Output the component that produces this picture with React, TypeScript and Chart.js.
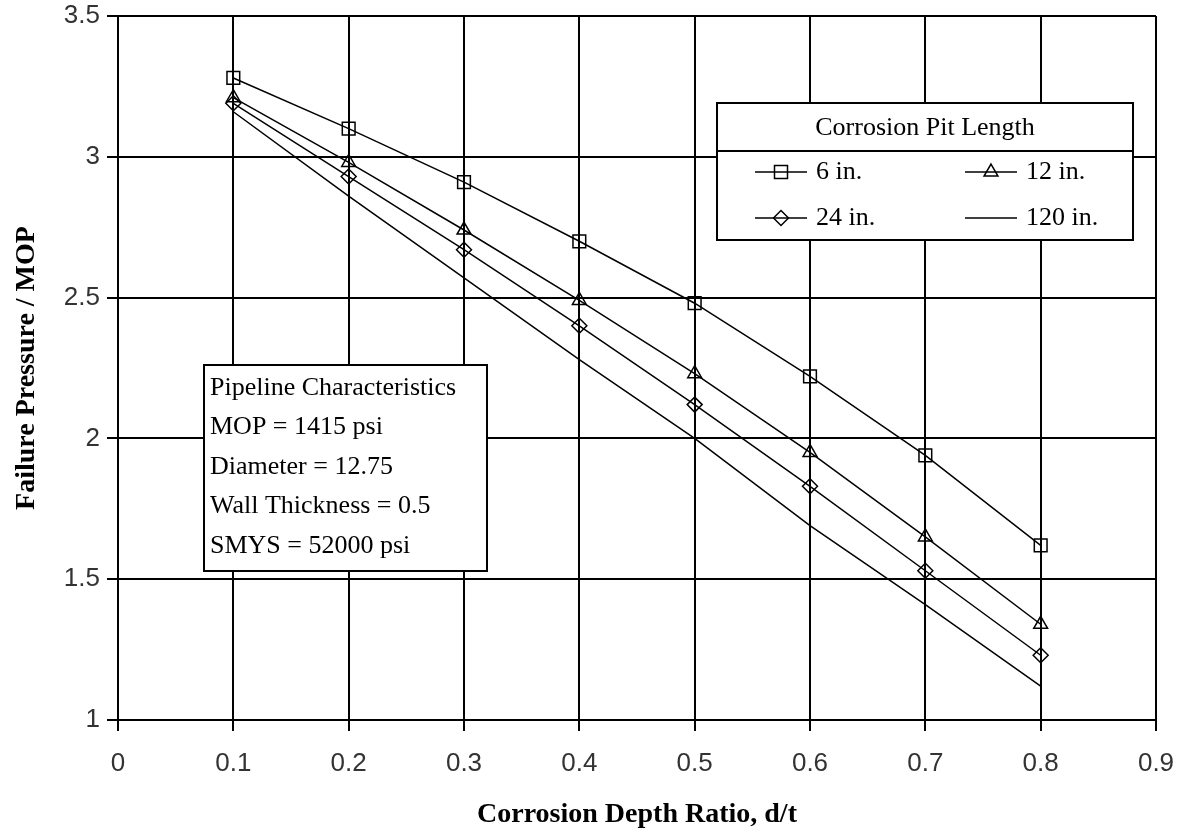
import React, { useEffect, useRef } from 'react';
import { Chart, registerables } from 'chart.js';

Chart.register(...registerables);

// ---- data ----
const depthRatios = [0.1, 0.2, 0.3, 0.4, 0.5, 0.6, 0.7, 0.8];
const seriesLabels = ['6 in.', '12 in.', '24 in.', '120 in.'];
const pit6 = [3.28, 3.10, 2.91, 2.70, 2.48, 2.22, 1.94, 1.62];
const pit12 = [3.21, 2.98, 2.74, 2.49, 2.23, 1.95, 1.65, 1.34];
const pit24 = [3.19, 2.93, 2.67, 2.40, 2.12, 1.83, 1.53, 1.23];
const pit120 = [3.16, 2.86, 2.57, 2.28, 2.00, 1.69, 1.41, 1.12];
const xTickValues = [0, 0.1, 0.2, 0.3, 0.4, 0.5, 0.6, 0.7, 0.8, 0.9];
const yTickValues = [1, 1.5, 2, 2.5, 3, 3.5];
const xTitle = 'Corrosion Depth Ratio, d/t';
const yTitle = 'Failure Pressure / MOP';
const legendTitle = 'Corrosion Pit Length';
const pipelineLines = [
  'Pipeline Characteristics',
  'MOP = 1415 psi',
  'Diameter = 12.75',
  'Wall Thickness = 0.5',
  'SMYS = 52000 psi',
];

const SERIF = '"Liberation Serif", "Times New Roman", serif';
const SANS = '"Liberation Sans", Arial, sans-serif';

function drawMarker(ctx: CanvasRenderingContext2D, style: string, x: number, y: number) {
  ctx.beginPath();
  if (style === 'rect') {
    const s = 6.5;
    ctx.rect(x - s, y - s, 2 * s, 2 * s);
  } else if (style === 'triangle') {
    const r = 8;
    ctx.moveTo(x, y - r);
    ctx.lineTo(x + r * Math.sin((2 * Math.PI) / 3), y - r * Math.cos((2 * Math.PI) / 3));
    ctx.lineTo(x + r * Math.sin((4 * Math.PI) / 3), y - r * Math.cos((4 * Math.PI) / 3));
    ctx.closePath();
  } else if (style === 'rectRot') {
    const r = 7.5;
    ctx.moveTo(x, y - r);
    ctx.lineTo(x + r, y);
    ctx.lineTo(x, y + r);
    ctx.lineTo(x - r, y);
    ctx.closePath();
  } else {
    return;
  }
  ctx.stroke();
}

const boxesPlugin = {
  id: 'boxes',
  afterDatasetsDraw(chart: any) {
    const ctx: CanvasRenderingContext2D = chart.ctx;
    ctx.save();
    // ---- pipeline characteristics box ----
    ctx.fillStyle = '#fff';
    ctx.strokeStyle = '#000';
    ctx.lineWidth = 2;
    ctx.fillRect(204, 365, 283, 206);
    ctx.strokeRect(204, 365, 283, 206);
    ctx.fillStyle = '#000';
    ctx.font = '26px ' + SERIF;
    ctx.textBaseline = 'middle';
    ctx.textAlign = 'left';
    pipelineLines.forEach((t, i) => {
      ctx.fillText(t, 210, 388 + i * 39.5);
    });

    // ---- legend box ----
    ctx.fillStyle = '#fff';
    ctx.fillRect(717, 103, 416, 137);
    ctx.strokeRect(717, 103, 416, 137);
    ctx.beginPath();
    ctx.moveTo(717, 151);
    ctx.lineTo(1133, 151);
    ctx.stroke();
    ctx.fillStyle = '#000';
    ctx.textAlign = 'center';
    ctx.fillText(legendTitle, 925, 128);
    ctx.textAlign = 'left';
    const cols = [755, 965];
    const rows = [172, 218];
    chart.data.datasets.forEach((ds: any, i: number) => {
      const x0 = cols[i % 2];
      const y0 = rows[Math.floor(i / 2)];
      ctx.strokeStyle = '#000';
      ctx.lineWidth = 1.5;
      ctx.beginPath();
      ctx.moveTo(x0, y0);
      ctx.lineTo(x0 + 52, y0);
      ctx.stroke();
      if (ds.pointRadius > 0) drawMarker(ctx, ds.pointStyle, x0 + 26, y0);
      ctx.fillText(ds.label, x0 + 61, y0);
    });
    ctx.restore();
  },
};

export default function App() {
  const canvasRef = useRef<HTMLCanvasElement | null>(null);

  useEffect(() => {
    const canvas = canvasRef.current;
    if (!canvas) return;
    const series = [pit6, pit12, pit24, pit120];
    const styles = ['rect', 'triangle', 'rectRot', 'circle'];
    const radii = [9, 8, 7.5, 0];
    const chart = new Chart(canvas, {
      type: 'scatter',
      data: {
        datasets: series.map((vals, i) => ({
          label: seriesLabels[i],
          data: depthRatios.map((x, j) => ({ x, y: vals[j] })),
          showLine: true,
          borderColor: '#000',
          borderWidth: 1.5,
          backgroundColor: 'rgba(0,0,0,0)',
          pointStyle: styles[i],
          pointRadius: radii[i],
          pointBorderWidth: 1.5,
          pointBorderColor: '#000',
          pointBackgroundColor: 'rgba(0,0,0,0)',
          tension: 0,
        })),
      },
      options: {
        animation: false,
        responsive: false,
        layout: { padding: { top: 16, right: 25, left: 0, bottom: 0 } },
        plugins: {
          legend: { display: false },
          tooltip: { enabled: false },
        },
        scales: {
          x: {
            type: 'linear',
            min: 0,
            max: 0.9,
            afterBuildTicks: (scale: any) => {
              scale.ticks = xTickValues.map((v) => ({ value: v }));
            },
            afterFit: (scale: any) => {
              scale.height = 116;
              scale.paddingLeft = 0;
              scale.paddingRight = 0;
            },
            ticks: {
              color: '#333',
              font: { family: SANS, size: 26 },
              padding: 17,
              maxRotation: 0,
              autoSkip: false,
              callback: (v: any) => String(Math.round(Number(v) * 10) / 10),
            },
            grid: { color: '#000', lineWidth: 2, tickLength: 11, drawTicks: true },
            border: { display: true, color: '#000', width: 2 },
            title: {
              display: true,
              text: xTitle,
              color: '#000',
              font: { family: SERIF, size: 28, weight: 'bold' },
              padding: { top: 0, bottom: 4 },
            },
          },
          y: {
            type: 'linear',
            min: 1,
            max: 3.5,
            afterBuildTicks: (scale: any) => {
              scale.ticks = yTickValues.map((v) => ({ value: v }));
            },
            afterFit: (scale: any) => {
              scale.width = 118;
              scale.paddingTop = 0;
              scale.paddingBottom = 0;
            },
            ticks: {
              color: '#333',
              font: { family: SANS, size: 26 },
              padding: 7,
              autoSkip: false,
              callback: (v: any) => String(Math.round(Number(v) * 10) / 10),
            },
            grid: { color: '#000', lineWidth: 2, tickLength: 11, drawTicks: true },
            border: { display: true, color: '#000', width: 2 },
            title: {
              display: true,
              text: yTitle,
              color: '#000',
              font: { family: SERIF, size: 28, weight: 'bold' },
              padding: { top: 10, bottom: 0 },
            },
          },
        },
      },
      plugins: [boxesPlugin],
    } as any);
    return () => chart.destroy();
  }, []);

  return (
    <div style={{ position: 'absolute', left: 0, top: 0, width: 1181, height: 836, background: '#fff' }}>
      <canvas ref={canvasRef} width={1181} height={836} style={{ display: 'block' }} />
    </div>
  );
}
